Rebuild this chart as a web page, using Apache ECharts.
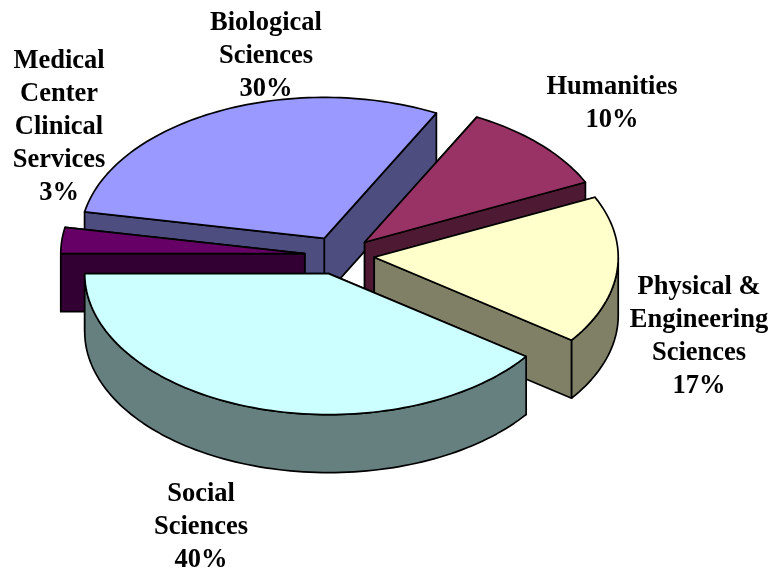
<!DOCTYPE html>
<html>
<head>
<meta charset="utf-8">
<style>html,body{margin:0;padding:0;background:#fff}#c{width:772px;height:573px}</style>
<script src="https://cdn.jsdelivr.net/npm/echarts@6/dist/echarts.min.js"></script>
</head>
<body>
<div id="c"></div>
<script>
// Data, in pie order (clockwise on screen from the first slice's start angle)
const categories = ['Social\nSciences', 'Medical\nCenter\nClinical\nServices', 'Biological\nSciences', 'Humanities', 'Physical &\nEngineering\nSciences'];
const shares = [40, 3, 29.6, 10.4, 17];
const topColors = ['#CCFFFF', '#660066', '#9999FF', '#993366', '#FFFFCC'];
const sideColors = ['#668080', '#330033', '#4D4D80', '#4D1933', '#808066'];
// Layout
const drawOrder = [2, 3, 1, 4, 0];
const labelCenters = [[201, 478], [59, 45], [266, 7], [612, 71], [699, 271]];
const centre = [339.5, 255.5], rx = 244, ry = 141, depth = 58, explodeX = 0.143, explodeY = 0.135, firstAngle = 36;
const lineH = 33, stroke = 1.7;

const total = shares.reduce((a, b) => a + b, 0);
const starts = [];
shares.reduce((acc, v, i) => { starts[i] = acc; return acc + v / total * 360; }, firstAngle);
const rad = d => d * Math.PI / 180;

function arc(ax, ay, from, to) {
  const n = Math.max(2, Math.ceil(Math.abs(to - from) / 1.5)), pts = [];
  for (let k = 0; k <= n; k++) {
    const t = rad(from + (to - from) * k / n);
    pts.push([ax + rx * Math.cos(t), ay + ry * Math.sin(t)]);
  }
  return pts;
}
function poly(points, fill) {
  return { type: 'polygon', shape: { points }, style: { fill, stroke: '#000', lineWidth: stroke, lineJoin: 'round' }, silent: true };
}
function renderSlice(params, api) {
  const i = api.value(0), share = api.value(1);
  const a0 = starts[i], a1 = a0 + share / total * 360, mid = rad((a0 + a1) / 2);
  const ax = centre[0] + explodeX * rx * Math.cos(mid), ay = centre[1] + explodeY * ry * Math.sin(mid);
  const children = [];
  // back-most radial face first
  [a0, a1].sort((p, q) => Math.sin(rad(p)) - Math.sin(rad(q))).forEach(a => {
    const p = arc(ax, ay, a, a)[0];
    children.push(poly([[ax, ay], p, [p[0], p[1] + depth], [ax, ay + depth]], sideColors[i]));
  });
  [[0, 180], [360, 540]].forEach(([lo, hi]) => {
    const f = Math.max(a0, lo), t = Math.min(a1, hi);
    if (t > f) {
      const edge = arc(ax, ay, f, t);
      const lower = edge.map(p => [p[0], p[1] + depth]).reverse();
      children.push(poly(edge.concat(lower), sideColors[i]));
    }
  });
  children.push(poly([[ax, ay]].concat(arc(ax, ay, a0, a1)), topColors[i]));
  return { type: 'group', children };
}
function renderLabel(params, api) {
  const i = api.value(0);
  return {
    type: 'text', silent: true,
    style: {
      x: labelCenters[i][0], y: labelCenters[i][1],
      text: categories[i] + '\n' + Math.round(api.value(1)) + '%',
      align: 'center', verticalAlign: 'top', lineHeight: lineH,
      font: 'bold 26.5px "Liberation Serif", "Times New Roman", serif', fill: '#000'
    }
  };
}
const chart = echarts.init(document.getElementById('c'), null, { renderer: 'canvas' });
chart.setOption({
  animation: false,
  backgroundColor: '#fff',
  series: [
    { type: 'custom', coordinateSystem: 'none', renderItem: renderSlice, clip: false,
      data: drawOrder.map(i => [i, shares[i]]), encode: {} },
    { type: 'custom', coordinateSystem: 'none', renderItem: renderLabel, clip: false,
      data: categories.map((c, i) => [i, shares[i]]), encode: {} }
  ]
});
</script>
</body>
</html>
